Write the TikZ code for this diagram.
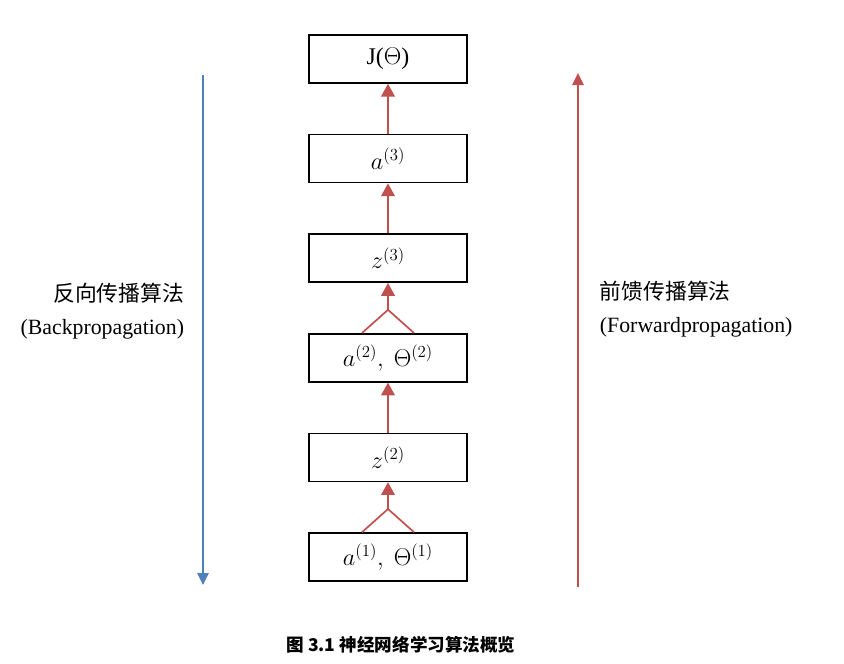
\documentclass[tikz,border=0pt]{standalone}
\usepackage{fontspec}
\setmainfont{Liberation Serif}
\newfontfamily\cjk{Noto Sans CJK SC}
\usetikzlibrary{arrows.meta}
\definecolor{fwdred}{RGB}{192,80,77}
\definecolor{bckblue}{RGB}{79,129,189}
\begin{document}
\begin{tikzpicture}[x=0.025cm,y=-0.025cm]

\tikzset{%
every layer/.style={
rectangle,
draw,
line width=1.1pt,
minimum width=3.95cm,
minimum height=1.2cm,
font=\fontsize{17}{20}\selectfont
},
up/.style={
fwdred,
line width=1.4pt,
-{Triangle[length=0.32cm,width=0.34cm]}
},
fork/.style={
fwdred,
line width=1.2pt
},
}

\useasboundingbox (0,0) rectangle (844,664);

% Boxes from top to bottom
\foreach \t [count=\i] in {{J($\Theta$)},{$a^{(3)}$},{$z^{(3)}$},{$a^{(2)},\ \Theta^{(2)}$},{$z^{(2)}$},{$a^{(1)},\ \Theta^{(1)}$}}
\node [every layer] (layer-\i) at (388,59+99.6*\i-99.6) {\t};

% Plain arrows
\foreach \a/\b in {2/1,3/2,5/4}
\draw [up] (layer-\a.north) -- (layer-\b.south);

% Forked arrows
\foreach \a/\b in {4/3,6/5} {
\coordinate (join-\a) at ([yshift=0.58cm]layer-\a.north);
\draw [fork] ([xshift=-0.65cm]layer-\a.north) -- (join-\a) -- ([xshift=0.65cm]layer-\a.north);
\draw [up] (join-\a) -- (layer-\b.south);
}

% Direction arrows
\coordinate (back-top) at (203,75);
\coordinate (back-bot) at (203,585);
\coordinate (fwd-top) at (578,73);
\coordinate (fwd-bot) at (578,587);
\draw [bckblue, line width=1.4pt, -{Triangle[length=0.3cm,width=0.28cm]}] (back-top) -- (back-bot);
\draw [fwdred, line width=1.4pt, -{Triangle[length=0.3cm,width=0.28cm]}] (fwd-bot) -- (fwd-top);

% Labels
\node [align=right, anchor=east, font=\fontsize{15.5}{23}\selectfont] (back-label) at (189,311) {{\cjk 反向传播算法}\\(Backpropagation)};
\node [align=left, anchor=west, font=\fontsize{15.5}{23}\selectfont] (fwd-label) at (595,309) {{\cjk 前馈传播算法}\\(Forwardpropagation)};

% Caption
\node [font=\cjk\bfseries\fontsize{12.5}{15}\selectfont] (caption) at (401,645) {图 3.1 神经网络学习算法概览};

\end{tikzpicture}
\end{document}
